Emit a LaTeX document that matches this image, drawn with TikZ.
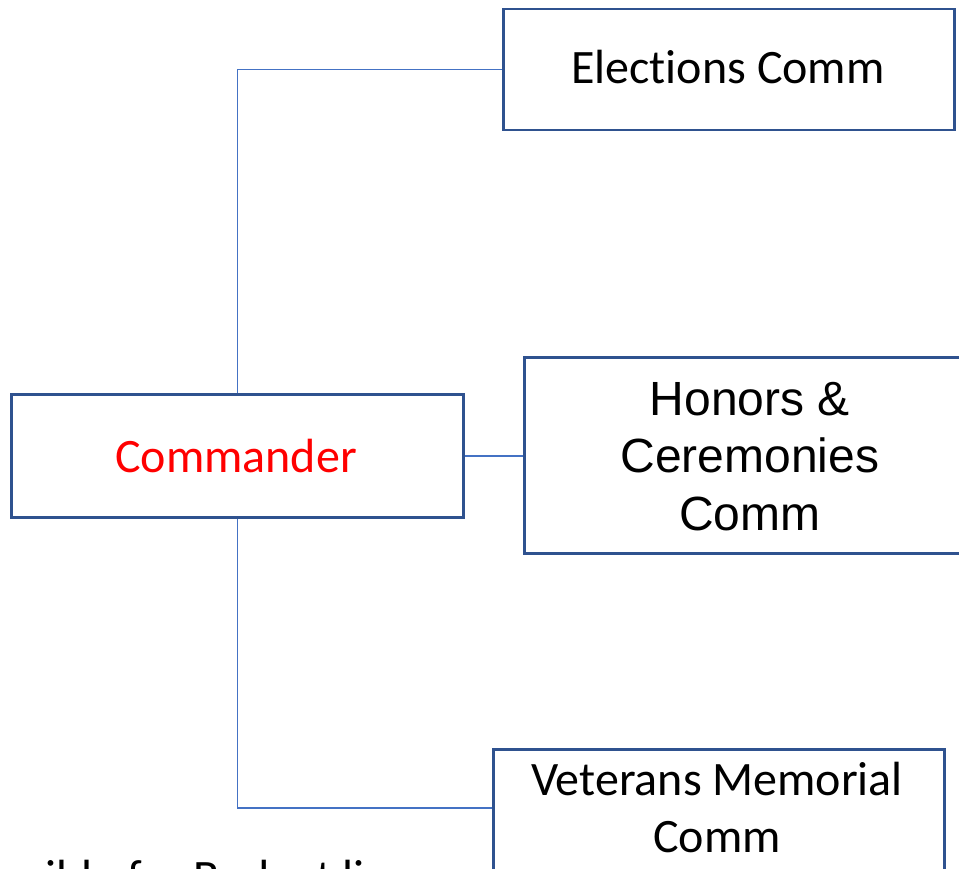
\documentclass[tikz,border=0pt]{standalone}
\usepackage{fontspec}
\setmainfont{Carlito}[RawFeature=-liga]
\newfontfamily\arialfont{Liberation Sans}
\definecolor{boxblue}{RGB}{47,82,143}
\definecolor{lineblue}{RGB}{68,114,196}
\definecolor{cmdred}{RGB}{255,0,0}
\begin{document}
\begin{tikzpicture}[x=1pt,y=-1pt,
  orgbox/.style={draw=boxblue,line width=2.5pt,rectangle,inner sep=0pt,anchor=north west,fill=white},
  conn/.style={draw=lineblue,line width=1.5pt},
  lbl/.style={inner sep=0pt,anchor=base,font=\fontsize{48}{58}\selectfont}]
\useasboundingbox (0,0) rectangle (959,869);
\clip (0,0) rectangle (959,869);
\fill[white] (0,0) rectangle (959,869);
\coordinate (vetin) at (492,808);
\node[orgbox,minimum width=451pt,minimum height=121pt] (elec) at (502,8) {};
\node[orgbox,minimum width=452pt,minimum height=123pt] (cmd) at (10,393) {};
\node[orgbox,minimum width=470pt,minimum height=196pt] (hon) at (523,356) {};
\node[orgbox,minimum width=451pt,minimum height=160pt] (vet) at (492,748) {};
\draw[conn] (cmd.north) |- (elec.west);
\draw[conn] (cmd.east) -- (cmd.east -| hon.west);
\draw[conn] (cmd.south) |- (vetin);
\node[lbl] (elect) at (728,84) {Elections Comm};
\node[lbl,text=cmdred] (cmdt) at (236,472) {Commander};
\node[lbl,font=\fontsize{48}{58}\arialfont] (hont1) at (750,415) {Honors \&};
\node[lbl,font=\fontsize{48}{58}\arialfont] (hont2) at (750,472.5) {Ceremonies};
\node[lbl,font=\fontsize{48}{58}\arialfont] (hont3) at (750,530) {Comm};
\node[lbl] (vett1) at (717,795) {Veterans Memorial};
\node[lbl] (vett2) at (717,852) {Comm};
\node[lbl,anchor=base west] (budget) at (45,893) {ible for Budget line};
\end{tikzpicture}
\end{document}
